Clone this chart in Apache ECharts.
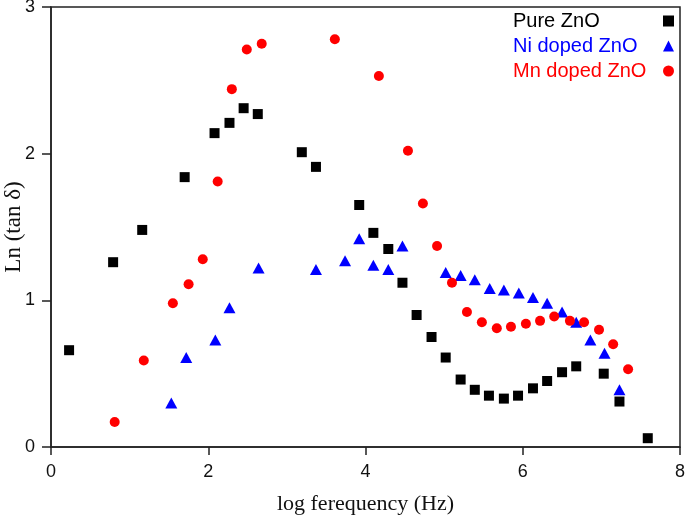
<!DOCTYPE html>
<html>
<head>
<meta charset="utf-8">
<script src="https://cdn.jsdelivr.net/npm/echarts@6/dist/echarts.min.js"></script>
<style>html,body{margin:0;padding:0;background:#fff}#c{width:685px;height:516px}</style>
</head>
<body>
<div id="c"></div>
<script>
var seriesNames = ['Pure ZnO', 'Ni doped ZnO', 'Mn doped ZnO'];
var xTicks = [0, 2, 4, 6, 8];
var yTicks = [0, 1, 2, 3];

var pureX = [0.23, 0.79, 1.16, 1.70, 2.08, 2.27, 2.45, 2.63, 3.19, 3.37, 3.92, 4.10, 4.29, 4.47, 4.65, 4.84, 5.02, 5.21, 5.39, 5.57, 5.76, 5.94, 6.13, 6.31, 6.50, 6.68, 7.03, 7.23, 7.59];
var pureY = [0.66, 1.26, 1.48, 1.84, 2.14, 2.21, 2.31, 2.27, 2.01, 1.91, 1.65, 1.46, 1.35, 1.12, 0.90, 0.75, 0.61, 0.46, 0.39, 0.35, 0.33, 0.35, 0.40, 0.45, 0.51, 0.55, 0.50, 0.31, 0.06];

var niX = [1.53, 1.72, 2.09, 2.27, 2.64, 3.37, 3.74, 3.92, 4.10, 4.29, 4.47, 5.02, 5.21, 5.39, 5.58, 5.76, 5.95, 6.13, 6.31, 6.50, 6.68, 6.86, 7.04, 7.23];
var niY = [0.30, 0.61, 0.73, 0.95, 1.22, 1.21, 1.27, 1.42, 1.24, 1.21, 1.37, 1.19, 1.17, 1.14, 1.08, 1.07, 1.05, 1.02, 0.98, 0.92, 0.85, 0.73, 0.64, 0.39];

var mnX = [0.81, 1.18, 1.55, 1.75, 1.93, 2.12, 2.30, 2.49, 2.68, 3.61, 4.17, 4.54, 4.73, 4.91, 5.10, 5.29, 5.48, 5.67, 5.85, 6.04, 6.22, 6.40, 6.60, 6.78, 6.97, 7.15, 7.34];
var mnY = [0.17, 0.59, 0.98, 1.11, 1.28, 1.81, 2.44, 2.71, 2.75, 2.78, 2.53, 2.02, 1.66, 1.37, 1.12, 0.92, 0.85, 0.81, 0.82, 0.84, 0.86, 0.89, 0.86, 0.85, 0.80, 0.70, 0.53];

function pairs(xs, ys) { return xs.map(function (x, i) { return [x, ys[i]]; }); }

var legendColors = ['#000000', '#0000ff', '#ff0000'];

var chart = echarts.init(document.getElementById('c'));
chart.setOption({
  animation: false,
  backgroundColor: '#fff',
  grid: { left: 51, right: 5, top: 7, bottom: 69, show: true, borderColor: '#222', borderWidth: 1.5,
          containLabel: false, outerBoundsMode: 'none' },
  xAxis: {
    type: 'value', min: xTicks[0], max: xTicks[xTicks.length - 1], interval: 2,
    name: 'log ferequency (Hz)', nameLocation: 'middle', nameGap: 46, nameMoveOverlap: false,
    nameTextStyle: { fontFamily: 'Liberation Serif', fontSize: 22, color: '#111' },
    axisLine: { lineStyle: { color: '#222', width: 1.5 } },
    axisTick: { show: true, inside: false, length: 8, lineStyle: { color: '#222', width: 1.5 } },
    axisLabel: { margin: 16, fontFamily: 'Liberation Sans', fontSize: 18, color: '#111' },
    splitLine: { show: false }
  },
  yAxis: {
    type: 'value', min: yTicks[0], max: yTicks[yTicks.length - 1], interval: 1,
    name: 'Ln (tan δ)', nameLocation: 'middle', nameGap: 26, nameMoveOverlap: false,
    nameTextStyle: { fontFamily: 'Liberation Serif', fontSize: 23, color: '#111' },
    axisLine: { show: true, lineStyle: { color: '#222', width: 1.5 } },
    axisTick: { show: true, inside: false, length: 9, lineStyle: { color: '#222', width: 1.5 } },
    axisLabel: { margin: 16, fontFamily: 'Liberation Sans', fontSize: 18, color: '#111' },
    splitLine: { show: false }
  },
  legend: {
    orient: 'vertical', left: 508, top: 6, align: 'right',
    itemWidth: 11, itemHeight: 11, itemGap: 5,
    formatter: function (name) { return '{t' + seriesNames.indexOf(name) + '|' + name + '}'; },
    textStyle: {
      fontFamily: 'Liberation Sans', fontSize: 20, lineHeight: 20,
      rich: {
        t0: { width: 145, align: 'left', color: legendColors[0], fontFamily: 'Liberation Sans', fontSize: 20 },
        t1: { width: 145, align: 'left', color: legendColors[1], fontFamily: 'Liberation Sans', fontSize: 20 },
        t2: { width: 145, align: 'left', color: legendColors[2], fontFamily: 'Liberation Sans', fontSize: 20 }
      }
    },
    data: seriesNames
  },
  series: [
    { name: seriesNames[0], type: 'scatter', symbol: 'rect', symbolSize: 10,
      itemStyle: { color: '#000', opacity: 1 }, data: pairs(pureX, pureY) },
    { name: seriesNames[1], type: 'scatter', symbol: 'triangle', symbolSize: [12, 11],
      itemStyle: { color: '#0000ff', opacity: 1 }, data: pairs(niX, niY) },
    { name: seriesNames[2], type: 'scatter', symbol: 'circle', symbolSize: 10,
      itemStyle: { color: '#ff0000', opacity: 1 }, data: pairs(mnX, mnY) }
  ]
});
</script>
</body>
</html>
